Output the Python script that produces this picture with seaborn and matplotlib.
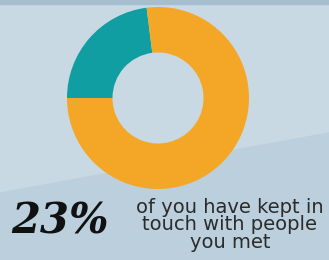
import matplotlib
matplotlib.use("Agg")
import matplotlib.pyplot as plt
import seaborn as sns

# data
labels = ["Kept in touch", "Did not"]
shares = [23, 77]
colors = ["#119ea3", "#f4a726"]
headline = "23%"
caption = "of you have kept in\ntouch with people\nyou met"

W, H = 329, 260
BG = "#c8d9e3"
BG_LOW = "#bccfdd"
TOP_BAND = "#a6bfd0"


def main():
    sns.set_theme(style="white")
    fig = plt.figure(figsize=(W / 100, H / 100), dpi=100)
    fig.patch.set_facecolor(BG)

    # background in pixel coords
    bg = fig.add_axes([0, 0, 1, 1])
    bg.set_xlim(0, W)
    bg.set_ylim(H, 0)
    bg.axis("off")
    bg.fill([0, W, W, 0], [0, 0, H, H], color=BG, zorder=0)
    bg.fill([0, W, W, 0], [193, 133, H, H], color=BG_LOW, zorder=1)
    bg.fill([0, W, W, 0], [0, 0, 4, 4], color=TOP_BAND, zorder=1)

    # donut
    cx, cy, r = 158, 98, 91
    ax = fig.add_axes([(cx - r) / W, 1 - (cy + r) / H, 2 * r / W, 2 * r / H])
    ax.pie(
        shares,
        colors=colors,
        startangle=180,
        counterclock=False,
        wedgeprops={"width": 0.5, "linewidth": 0},
    )
    ax.set_aspect("auto")
    ax.set_xlim(-1, 1)
    ax.set_ylim(-1, 1)
    ax.axis("off")

    bg.text(60, 222, headline, ha="center", va="center", fontsize=30,
            family="DejaVu Serif", style="italic", fontweight="bold",
            color="#111111", zorder=3)
    bg.text(230, 225, caption, ha="center", va="center", fontsize=14,
            family="DejaVu Sans", color="#2b2b2b", linespacing=0.9, zorder=3)

    fig.savefig("out.png", dpi=100, facecolor=BG)


if __name__ == "__main__":
    main()
